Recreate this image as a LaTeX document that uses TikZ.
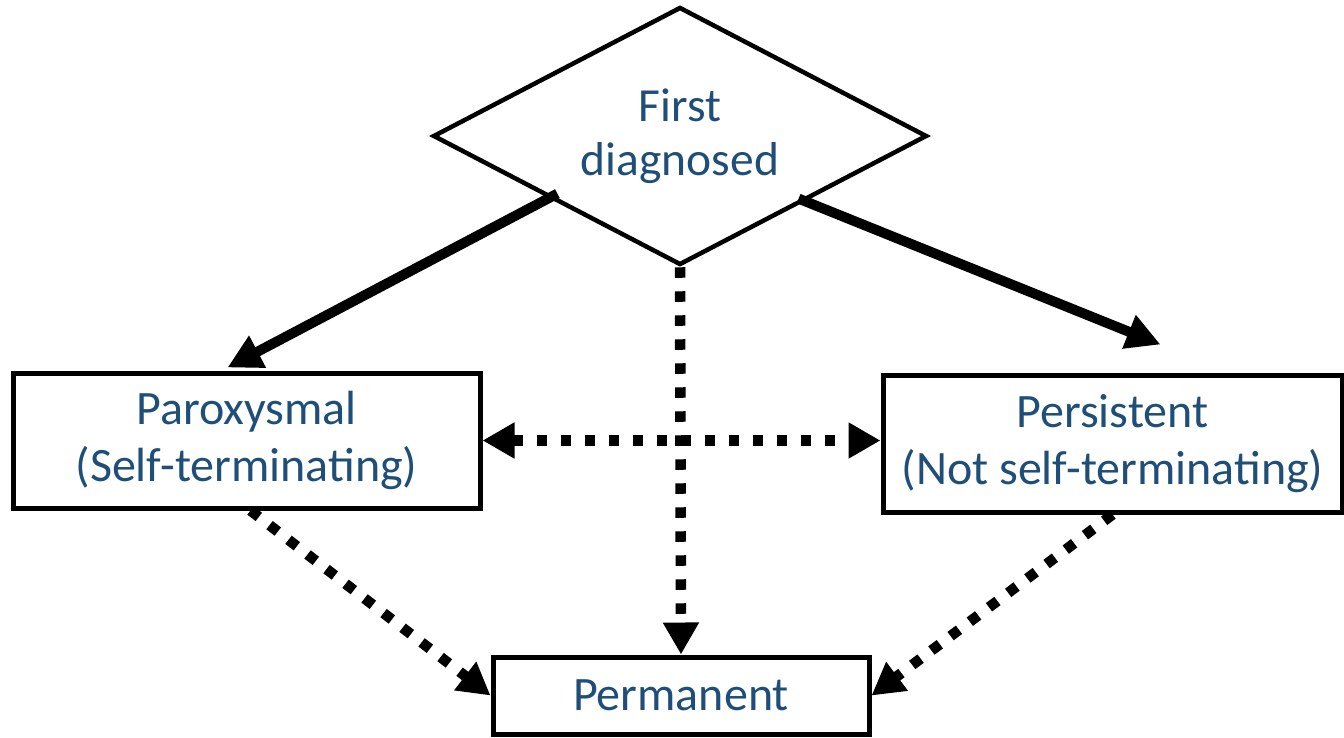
\documentclass[tikz,border=0pt]{standalone}
\usepackage{fontspec}
\setmainfont{Carlito}
\usetikzlibrary{shapes.geometric,arrows.meta,calc}
\definecolor{textblue}{HTML}{1F4E79}
\tikzset{
  box/.style={draw, rectangle, line width=5pt, inner sep=0pt, text=textblue, align=center,
    font=\fontsize{48pt}{57pt}\selectfont},
  thickarrow/.style={line width=10pt, -{Triangle[length=34pt,width=34pt]}},
  dotarrow/.style={line width=10.5pt, dash pattern=on 10.5pt off 13.5pt, -{Triangle[length=32pt,width=34pt]}},
  dotboth/.style={line width=10.5pt, dash pattern=on 10.5pt off 13.5pt, {Triangle[length=32pt,width=34pt]}-{Triangle[length=32pt,width=34pt]}}
}
\begin{document}
\begin{tikzpicture}[x=1pt,y=1pt]
\useasboundingbox (0,0) rectangle (1344,-737);
\node[draw, diamond, aspect=1.9, line width=4.5pt, minimum width=494pt, minimum height=258pt,
  inner sep=0pt, text=textblue, align=center, font=\fontsize{47.5pt}{54pt}\selectfont]
  (fd) at (680,-136) {First\\diagnosed};
\node[box, minimum width=467pt, minimum height=135pt] (par) at (246.5,-440.5) {Paroxysmal\\(Self-terminating)};
\node[box, minimum width=459pt, minimum height=137pt] (per) at (1112.5,-443.5) {Persistent\\(Not self-terminating)};
\node[box, minimum width=376pt, minimum height=77pt] (perm) at (681,-695.5) {Permanent};
\coordinate (s1) at ([xshift=2pt,yshift=8pt]fd.south west);
\coordinate (e1) at ([xshift=-19pt,yshift=3pt]par.north);
\coordinate (s2) at ([xshift=-6pt,yshift=3pt]fd.south east);
\coordinate (e2) at ([xshift=48pt,yshift=28pt]per.north);
\draw[thickarrow] (s1) -- (e1);
\draw[thickarrow] (s2) -- (e2);
\draw[dotarrow] (fd.south) -- (perm.north);
\draw[dotboth] (par.east) -- (par.east -| per.west);
\draw[dotarrow] ([xshift=4pt]par.south) -- (perm.west);
\draw[dotarrow] (per.south) -- (perm.east);
\end{tikzpicture}
\end{document}
